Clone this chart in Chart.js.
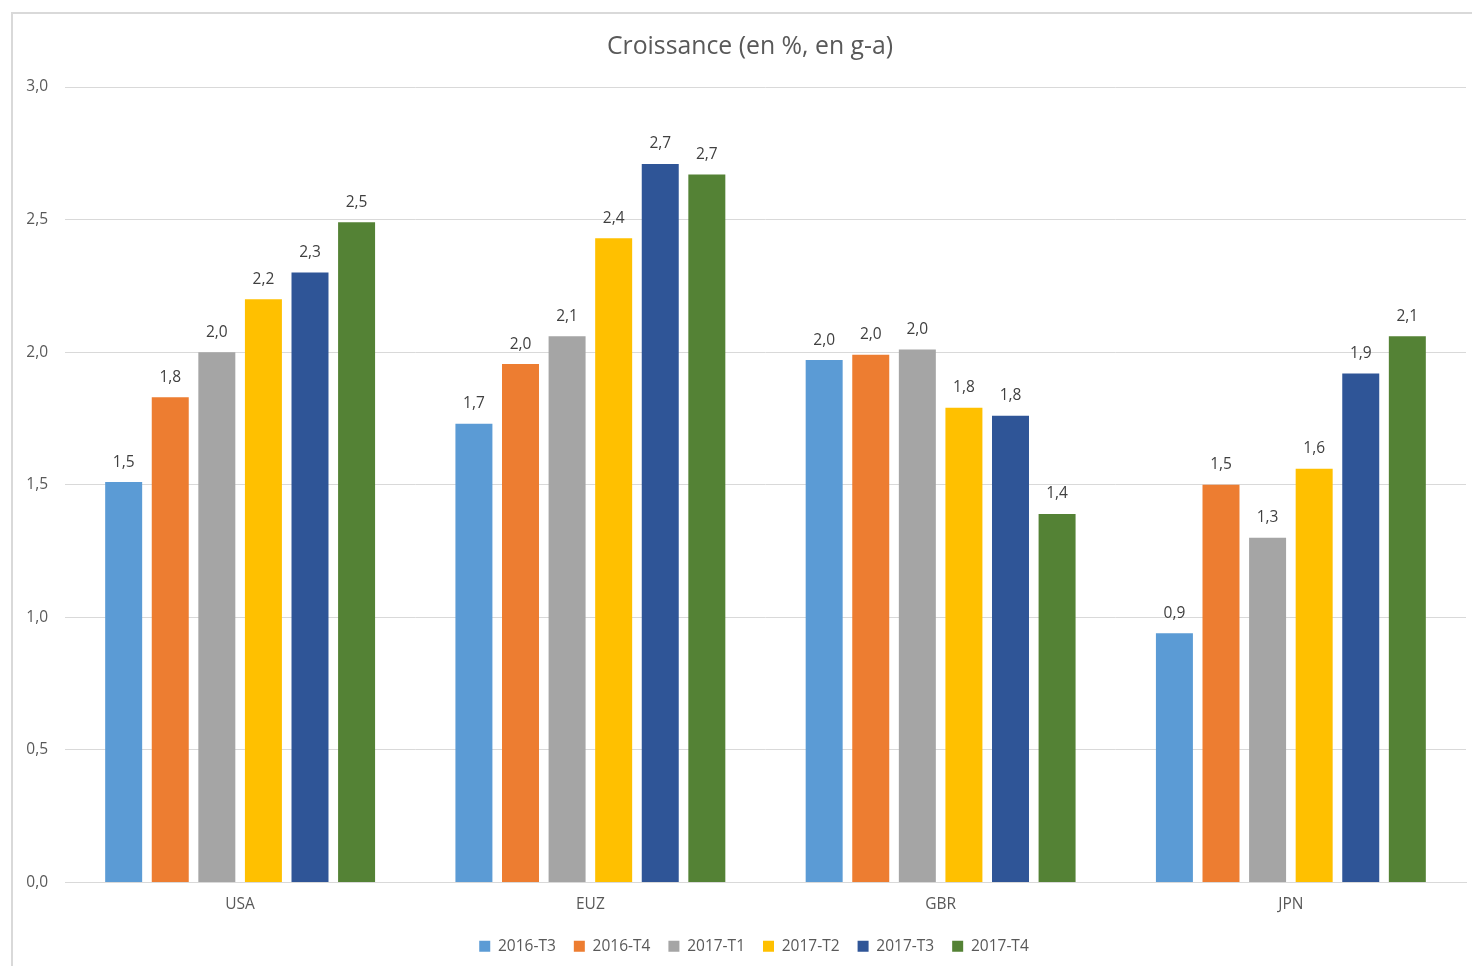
<!DOCTYPE html>
<html>
<head>
<meta charset="utf-8">
<script src="https://cdn.jsdelivr.net/npm/chart.js@4/dist/chart.umd.min.js"></script>
<style>
  html, body { margin: 0; padding: 0; background: #fff; }
  #wrap { position: relative; width: 1472px; height: 966px; }
</style>
</head>
<body>
<div id="wrap"><canvas id="chart" width="1472" height="966"></canvas></div>
<script>
const categories = ["USA", "EUZ", "GBR", "JPN"];
const seriesNames = ["2016-T3", "2016-T4", "2017-T1", "2017-T2", "2017-T3", "2017-T4"];
const s2016T3 = [1.51, 1.73, 1.97, 0.94];
const s2016T4 = [1.83, 1.955, 1.99, 1.50];
const s2017T1 = [2.00, 2.06, 2.01, 1.30];
const s2017T2 = [2.20, 2.43, 1.79, 1.56];
const s2017T3 = [2.30, 2.71, 1.76, 1.92];
const s2017T4 = [2.49, 2.67, 1.39, 2.06];
const yTicks = [0, 0.5, 1.0, 1.5, 2.0, 2.5, 3.0];
const title = "Croissance (en %, en g-a)";

const colors = ["#5b9bd5", "#ed7d31", "#a5a5a5", "#ffc000", "#2f5597", "#548235"];
const allSeries = [s2016T3, s2016T4, s2017T1, s2017T2, s2017T3, s2017T4];

const fr = v => v.toFixed(1).replace(".", ",");
const FONT = "'Open Sans', 'Noto Sans', sans-serif";

// frame around the chart + the title (Excel centres it on the whole frame)
const framePlugin = {
    id: "frame",
    afterLayout(chart) {
        // legend is centred on the frame, not on the canvas
        chart.legend.left += 21;
        chart.legend.right += 21;
    },
    beforeDraw(chart) {
        const ctx = chart.ctx;
        ctx.save();
        ctx.fillStyle = "#fff";
        ctx.fillRect(0, 0, chart.width, chart.height);
        ctx.strokeStyle = "#d9d9d9";
        ctx.lineWidth = 2;
        ctx.strokeRect(12, 13, chart.width + 10, chart.height + 10);
        ctx.font = "24.8px " + FONT;
        ctx.fillStyle = "#595959";
        ctx.textAlign = "center";
        ctx.textBaseline = "middle";
        ctx.fillText(title, 750, 47);
        ctx.restore();
    }
};

// value labels above each bar
const valueLabels = {
    id: "valueLabels",
    afterDatasetsDraw(chart) {
        const ctx = chart.ctx;
        ctx.save();
        ctx.font = "15.5px " + FONT;
        ctx.fillStyle = "#404040";
        ctx.textAlign = "center";
        ctx.textBaseline = "middle";
        chart.data.datasets.forEach((ds, i) => {
            chart.getDatasetMeta(i).data.forEach((bar, j) => {
                ctx.fillText(fr(ds.data[j]), bar.x, bar.y - 20);
            });
        });
        ctx.restore();
    }
};

new Chart(document.getElementById("chart"), {
    type: "bar",
    data: {
        labels: categories,
        datasets: seriesNames.map((name, i) => ({
            label: name,
            data: allSeries[i],
            backgroundColor: colors[i],
            borderWidth: 0,
            categoryPercentage: 0.798,
            barPercentage: 0.794
        }))
    },
    options: {
        responsive: false,
        animation: false,
        layout: { padding: { left: 0, right: 6, top: 87, bottom: 2 } },
        plugins: {
            legend: {
                position: "bottom",
                labels: {
                    color: "#595959",
                    font: { family: FONT, size: 15.5 },
                    boxWidth: 11,
                    boxHeight: 11,
                    padding: 18
                }
            },
            tooltip: { enabled: false }
        },
        scales: {
            x: {
                afterFit: s => { s.height = 38; },
                grid: { display: false, drawTicks: false },
                border: { color: "#d9d9d9", width: 1 },
                ticks: { color: "#595959", font: { family: FONT, size: 15.5 }, padding: 13 }
            },
            y: {
                min: 0,
                max: 3,
                afterFit: s => { s.width = 65; },
                afterBuildTicks: s => { s.ticks = yTicks.map(v => ({ value: v })); },
                grid: { color: "#d9d9d9", drawTicks: false },
                border: { display: false },
                ticks: {
                    color: "#595959",
                    font: { family: FONT, size: 15.5 },
                    padding: 17,
                    callback: v => fr(v)
                }
            }
        }
    },
    plugins: [framePlugin, valueLabels]
});
</script>
</body>
</html>
